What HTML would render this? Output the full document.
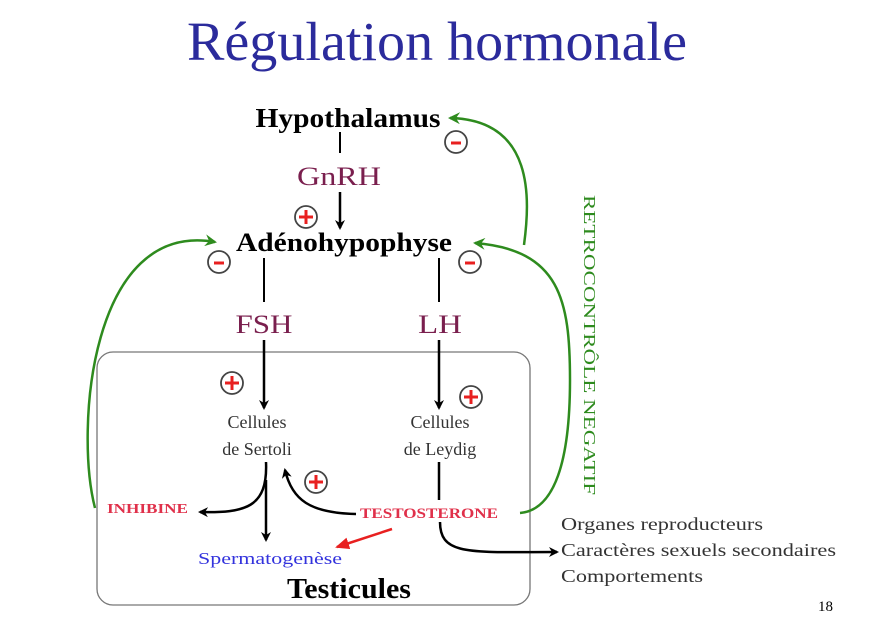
<!DOCTYPE html>
<html><head><meta charset="utf-8"><style>
html,body{margin:0;padding:0;background:#fff;}
svg{display:block;}
text{font-family:"Liberation Serif",serif;}
</style></head><body>
<svg width="889" height="627" viewBox="0 0 889 627" xmlns="http://www.w3.org/2000/svg">
<defs>
<marker id="ak" markerWidth="10" markerHeight="10" refX="8" refY="5" orient="auto" markerUnits="userSpaceOnUse"><path d="M0,0 L10,5 L0,10 L3,5 z" fill="#000"/></marker>
<marker id="ag" markerWidth="12" markerHeight="12" refX="10" refY="6" orient="auto" markerUnits="userSpaceOnUse"><path d="M0,0 L12,6 L0,12 L4,6 z" fill="#2e8b1e"/></marker>
<marker id="ar" markerWidth="14" markerHeight="12" refX="12" refY="6" orient="auto" markerUnits="userSpaceOnUse"><path d="M0,0 L14,6 L0,12 z" fill="#e82020"/></marker>
</defs>
<text x="437" y="60" text-anchor="middle" font-size="55" fill="#2b2b9c" textLength="500" lengthAdjust="spacingAndGlyphs">Régulation hormonale</text>

<rect x="97" y="352" width="433" height="253" rx="16" fill="none" stroke="#777" stroke-width="1.3"/>

<text x="348" y="127" text-anchor="middle" font-size="27" font-weight="bold" textLength="185" lengthAdjust="spacingAndGlyphs">Hypothalamus</text>
<line x1="340" y1="132" x2="340" y2="153" stroke="#000" stroke-width="2"/>
<text x="339" y="185" text-anchor="middle" font-size="26" fill="#7a1f4e" textLength="84" lengthAdjust="spacingAndGlyphs">GnRH</text>
<line x1="340" y1="192" x2="340" y2="228" stroke="#000" stroke-width="2.5" marker-end="url(#ak)"/>
<text x="344" y="251" text-anchor="middle" font-size="26" font-weight="bold" textLength="216" lengthAdjust="spacingAndGlyphs">Adénohypophyse</text>

<line x1="264" y1="258" x2="264" y2="302" stroke="#000" stroke-width="2"/>
<text x="264" y="333" text-anchor="middle" font-size="26" fill="#7a1f4e" textLength="57" lengthAdjust="spacingAndGlyphs">FSH</text>
<line x1="264" y1="340" x2="264" y2="408" stroke="#000" stroke-width="2.5" marker-end="url(#ak)"/>
<line x1="439" y1="258" x2="439" y2="302" stroke="#000" stroke-width="2"/>
<text x="440" y="333" text-anchor="middle" font-size="26" fill="#7a1f4e" textLength="44" lengthAdjust="spacingAndGlyphs">LH</text>
<line x1="439" y1="340" x2="439" y2="408" stroke="#000" stroke-width="2.5" marker-end="url(#ak)"/>

<g font-size="18" fill="#333" text-anchor="middle">
<text x="257" y="428">Cellules</text><text x="257" y="455">de Sertoli</text>
<text x="440" y="428">Cellules</text><text x="440" y="455">de Leydig</text>
</g>

<path d="M266,462 C268,508 245,513 200,512" fill="none" stroke="#000" stroke-width="2.5" marker-end="url(#ak)"/>
<line x1="266" y1="480" x2="266" y2="540" stroke="#000" stroke-width="2.5" marker-end="url(#ak)"/>
<path d="M356,514 C310,513 292,500 285,470" fill="none" stroke="#000" stroke-width="2.5" marker-end="url(#ak)"/>
<line x1="439" y1="462" x2="439" y2="500" stroke="#000" stroke-width="2.5"/>
<path d="M440,522 C440,556 470,552 557,552" fill="none" stroke="#000" stroke-width="2.5" marker-end="url(#ak)"/>
<line x1="392" y1="529" x2="337" y2="547" stroke="#e82020" stroke-width="2.5" marker-end="url(#ar)"/>

<text x="107" y="513" font-size="14" font-weight="bold" fill="#e0304a" textLength="81" lengthAdjust="spacingAndGlyphs">INHIBINE</text>
<text x="360" y="518" font-size="15" font-weight="bold" fill="#e0304a" textLength="138" lengthAdjust="spacingAndGlyphs">TESTOSTERONE</text>
<text x="198" y="564" font-size="17" fill="#3333dd" textLength="144" lengthAdjust="spacingAndGlyphs">Spermatogenèse</text>
<text x="349" y="598" text-anchor="middle" font-size="28" font-weight="bold" textLength="124" lengthAdjust="spacingAndGlyphs">Testicules</text>

<g font-size="17.5" fill="#333">
<text x="561" y="530" textLength="202" lengthAdjust="spacingAndGlyphs">Organes reproducteurs</text>
<text x="561" y="556" textLength="275" lengthAdjust="spacingAndGlyphs">Caractères sexuels secondaires</text>
<text x="561" y="582" textLength="142" lengthAdjust="spacingAndGlyphs">Comportements</text>
</g>
<text x="818" y="611" font-size="15">18</text>

<text transform="translate(584,195) rotate(90)" font-size="17" fill="#2e8b1e" textLength="300" lengthAdjust="spacingAndGlyphs">RETROCONTRÔLE  NEGATIF</text>

<g fill="none" stroke="#2e8b1e" stroke-width="2.5">
<path d="M520,513 C555,510 570,460 570,380 C570,300 560,250 475,243" marker-end="url(#ag)"/>
<path d="M524,245 C530,200 535,120 450,118" marker-end="url(#ag)"/>
<path d="M95,508 C75,430 90,220 215,242" marker-end="url(#ag)"/>
</g>

<g stroke="#444" stroke-width="1.8" fill="#fff">
<circle cx="306" cy="217" r="11"/><circle cx="219" cy="262" r="11"/><circle cx="470" cy="262" r="11"/><circle cx="456" cy="142" r="11"/>
<circle cx="232" cy="383" r="11"/><circle cx="471" cy="397" r="11"/><circle cx="316" cy="482" r="11"/>
</g>
<g stroke="#e82020" stroke-width="3">
<path d="M299,217h14M306,210v14"/><path d="M225,383h14M232,376v14"/><path d="M464,397h14M471,390v14"/><path d="M309,482h14M316,475v14"/>
<path d="M214,263h10M465,263h10M451,143h10"/>
</g>
</svg>
</body></html>
